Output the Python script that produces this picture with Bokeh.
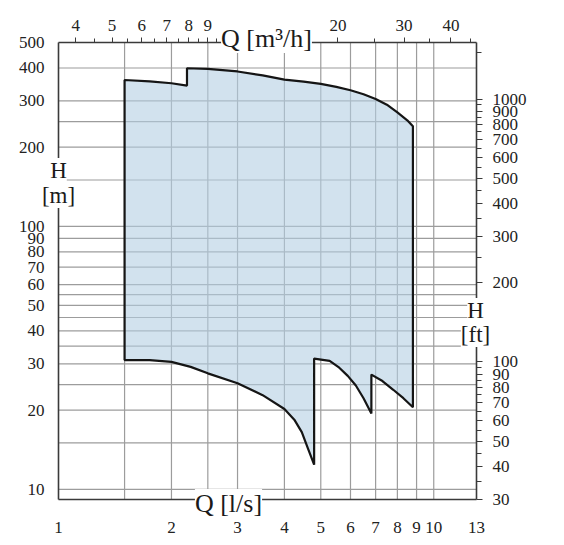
from bokeh.plotting import figure
from bokeh.models import (LogAxis, Range1d, LogScale, FixedTicker,
                          PrintfTickFormatter, Label)
from bokeh.embed import file_html
from bokeh.resources import INLINE
import math

# ---- data: Q [l/s], H [m] ----
top1_q = [1.5, 1.75, 2.0, 2.2]
top1_h = [360, 356, 350, 343]
top2_q = [2.2, 2.5, 3.0, 3.5, 4.0]
top2_h = [399, 397, 388, 375, 361]
top3_q = [4.0, 4.5, 5.0, 5.5, 6.0, 6.5, 7.0, 7.5, 8.0, 8.5, 8.8]
top3_h = [361, 355, 348, 339, 329, 318, 305, 290, 271, 253, 240]

bot1_q = [1.5, 1.75, 2.0, 2.25, 2.5, 3.0, 3.5, 4.0, 4.25, 4.45, 4.62, 4.8]
bot1_h = [31.0, 31.0, 30.5, 29.2, 27.6, 25.3, 22.8, 20.2, 18.4, 16.5, 14.3, 12.4]
bot2_q = [4.8, 5.28, 5.6, 5.9, 6.2, 6.5, 6.82]
bot2_h = [31.4, 30.8, 29.0, 27.0, 24.8, 22.2, 19.4]
bot3_q = [6.82, 7.3, 7.8, 8.3, 8.8]
bot3_h = [27.3, 25.8, 23.9, 22.2, 20.5]

# ticks / labels / grid
q_ticks = [1, 2, 3, 4, 5, 6, 7, 8, 9, 10, 13]
q_grid = [1.5, 2, 2.5, 3, 4, 5, 6, 7, 8, 9, 10]
h_ticks = [10, 20, 30, 40, 50, 60, 70, 80, 90, 100, 200, 300, 400, 500]
h_grid = [10, 15, 20, 25, 30, 35, 40, 45, 50, 55, 60, 70, 80, 90, 100,
          150, 200, 250, 300, 400]
m3h_ticks = [4, 5, 6, 7, 8, 9, 20, 30, 40]
m3h_minor = [4.5, 5.5, 6.5, 7.5, 8.5, 9.5, 10, 15, 25, 35, 45]
ft_ticks = [30, 40, 50, 60, 70, 80, 90, 100, 200, 300, 400, 500, 600,
            700, 800, 900, 1000]
ft_minor = [35, 45, 55, 65, 75, 85, 95, 150, 250, 350, 450, 550, 650,
            750, 850, 950, 1500]

FT_PER_M = 3.28084
M3H_PER_LS = 3.6
q_min, q_max = 1, 13
h_max = 500
h_min = 30 / FT_PER_M

# ---- layout (pixels) ----
W, H = 556, 537
L, R, T, B = 58, 476, 42, 499          # data box edges on canvas
px_dec_x = (R - L) / math.log10(q_max / q_min)
px_dec_y = (B - T) / math.log10(h_max / h_min)
x_lo = q_min * 10 ** (-L / px_dec_x)
x_hi = q_max * 10 ** ((W - R) / px_dec_x)
y_lo = h_min * 10 ** (-(H - B) / px_dec_y)
y_hi = h_max * 10 ** (T / px_dec_y)

poly_q = (top1_q + top2_q + top3_q + bot3_q[::-1] + bot2_q[::-1] + bot1_q[::-1])
poly_h = (top1_h + top2_h + top3_h + bot3_h[::-1] + bot2_h[::-1] + bot1_h[::-1])

FONT = "Liberation Serif"
AX = "#3a3a3a"
GRID = "#9c9c9c"

p = figure(width=W, height=H, x_axis_type="log", y_axis_type="log",
           x_range=Range1d(x_lo, x_hi), y_range=Range1d(y_lo, y_hi),
           output_backend="svg", toolbar_location=None,
           min_border=0)
p.outline_line_color = None
p.background_fill_color = "white"
p.border_fill_color = "white"
p.xgrid.visible = False
p.ygrid.visible = False

p.extra_x_ranges = {"m3h": Range1d(x_lo * M3H_PER_LS, x_hi * M3H_PER_LS)}
p.extra_x_scales = {"m3h": LogScale()}
p.extra_y_ranges = {"ft": Range1d(y_lo * FT_PER_M, y_hi * FT_PER_M)}
p.extra_y_scales = {"ft": LogScale()}

# grid lines limited to the data box
p.segment(x0=q_grid, y0=[h_min] * len(q_grid), x1=q_grid,
          y1=[h_max] * len(q_grid), line_color=GRID, line_width=1.2)
p.segment(x0=[q_min] * len(h_grid), y0=h_grid, x1=[q_max] * len(h_grid),
          y1=h_grid, line_color=GRID, line_width=1.2)

# area
p.patch(poly_q, poly_h, fill_color="#b4cfe3", fill_alpha=0.6,
        line_color="#151515", line_width=2.2)


def style(ax, size="17px"):
    ax.axis_line_color = AX
    ax.axis_line_width = 1.6
    ax.major_label_text_font = FONT
    ax.major_label_text_font_size = size
    ax.major_label_text_color = "#222222"
    ax.formatter = PrintfTickFormatter(format="%d")
    ax.major_tick_in = 0
    ax.minor_tick_in = 0


bx = p.xaxis[0]
bx.ticker = FixedTicker(ticks=q_ticks, minor_ticks=[])
style(bx)
bx.fixed_location = h_min
bx.bounds = (q_min, q_max)
bx.major_tick_line_color = None
bx.minor_tick_line_color = None
bx.major_tick_out = 0
bx.minor_tick_out = 0
bx.major_label_standoff = 22

ly = p.yaxis[0]
ly.ticker = FixedTicker(ticks=h_ticks, minor_ticks=[])
style(ly)
ly.fixed_location = q_min
ly.bounds = (h_min, h_max)
ly.major_tick_line_color = None
ly.minor_tick_line_color = None
ly.major_tick_out = 0
ly.minor_tick_out = 0
ly.major_label_standoff = 14

top = LogAxis(x_range_name="m3h",
              ticker=FixedTicker(ticks=m3h_ticks, minor_ticks=m3h_minor))
style(top)
top.fixed_location = h_max
top.bounds = (q_min * M3H_PER_LS, q_max * M3H_PER_LS)
top.major_tick_out = 5
top.minor_tick_out = 4
top.major_tick_line_color = AX
top.minor_tick_line_color = AX
top.major_label_standoff = 7
p.add_layout(top, "above")

right = LogAxis(y_range_name="ft",
                ticker=FixedTicker(ticks=ft_ticks, minor_ticks=ft_minor))
style(right)
right.fixed_location = q_max
right.bounds = (h_min * FT_PER_M, h_max * FT_PER_M)
right.major_tick_out = 6
right.minor_tick_out = 5
right.major_tick_line_color = AX
right.minor_tick_line_color = AX
right.major_label_standoff = 10
p.add_layout(right, "right")


# axis titles (white boxes interrupting the axis lines); canvas px, y up
def title(cx, cy, text, size):
    p.add_layout(Label(x=cx, y=H - cy, x_units="screen", y_units="screen",
                       text=text, text_align="center",
                       text_baseline="middle", text_font=FONT,
                       text_font_size=size, text_color="#1a1a1a",
                       background_fill_color="white"))


title(266, 38, "Q [m³/h]", "26px")
title(228, 503, "Q [l/s]", "26px")
title(58, 170, "H", "23px")
title(58, 195, "[m]", "23px")
title(475, 310, "H", "23px")
title(475, 334, "[ft]", "23px")

open("out.html", "w").write(file_html(p, INLINE))
